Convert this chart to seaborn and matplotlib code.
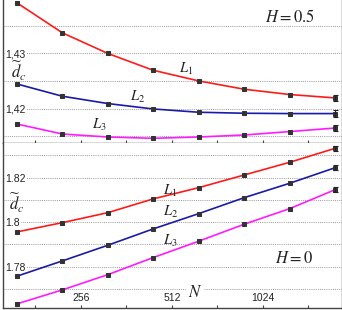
import numpy as np
import pandas as pd
import matplotlib
matplotlib.use('Agg')
import matplotlib.pyplot as plt
from matplotlib.ticker import NullLocator
import seaborn as sns

# ------------------------------------------------------------
# data
# ------------------------------------------------------------
N = [157, 222, 314, 443, 627, 887, 1254, 1774]

# H = 0.5 (upper panel)
h05_L1 = [1.43920, 1.43375, 1.43000, 1.42696, 1.42502, 1.42351, 1.42255, 1.42193]
h05_L2 = [1.42447, 1.42224, 1.42091, 1.41993, 1.41933, 1.41915, 1.41909, 1.41909]
h05_L3 = [1.41720, 1.41538, 1.41484, 1.41460, 1.41484, 1.41520, 1.41582, 1.41647]
h05_err = [0.0006, 0.0006, 0.0006]

# H = 0 (lower panel)
h0_L1 = [1.79560, 1.79978, 1.80427, 1.81043, 1.81551, 1.82121, 1.82692, 1.83321]
h0_L2 = [1.77569, 1.78256, 1.78962, 1.79694, 1.80382, 1.81101, 1.81748, 1.82449]
h0_L3 = [1.76324, 1.76953, 1.77640, 1.78404, 1.79142, 1.79906, 1.80607, 1.81461]
h0_err = [0.0011, 0.0011, 0.0012]

series = ['L1', 'L2', 'L3']
colors = {'L1': '#ff1a1a', 'L2': '#1a1aa8', 'L3': '#ff1aff'}

xticks_major = [256, 512, 1024]
xticks_all = [181, 256, 362, 512, 724, 1024, 1448]

top_yticks = [1.42, 1.43]
top_ylabels = ['1,42', '1,43']
top_grid = [1.415, 1.425, 1.435]
bot_yticks = [1.78, 1.80, 1.82]
bot_ylabels = ['1.78', '1.8', '1.82']
bot_grid = [1.77, 1.79, 1.81, 1.83]

# ------------------------------------------------------------
# setup
# ------------------------------------------------------------
sns.set_theme(style='white')
plt.rcParams['font.family'] = ['Liberation Sans', 'DejaVu Sans']
plt.rcParams['mathtext.fontset'] = 'stix'

fig = plt.figure(figsize=(3.42, 3.10), dpi=100)
W, H = 342, 310
ax_top = fig.add_axes([2.7 / W, 1 - 143 / H, 1 - 2.7 / W, 143 / H])
ax_bot = fig.add_axes([2.7 / W, 2 / H, 1 - 2.7 / W, 165 / H])

def make_df(vals):
    return pd.DataFrame({'N': N * 3,
                         'd': np.concatenate(vals),
                         'L': np.repeat(series, len(N))})

def draw_panel(ax, vals, errs):
    df = make_df(vals)
    sns.lineplot(data=df, x='N', y='d', hue='L', palette=colors, ax=ax,
                 legend=False, linewidth=1.2, marker='s', markersize=2.4,
                 markerfacecolor='#333333', markeredgecolor='#333333',
                 zorder=3)
    for v, e in zip(vals, errs):
        ax.errorbar(N[-1], v[-1], yerr=e, fmt='none', ecolor='#222222',
                    elinewidth=0.8, capsize=1.8, capthick=0.8, zorder=4)
    ax.set_xscale('log', base=2)
    ax.set_xlim(141, 1869)
    ax.xaxis.set_minor_locator(NullLocator())
    ax.set_xticks(xticks_all)
    ax.set_xlabel('')
    ax.set_ylabel('')
    ax.tick_params(axis='x', direction='in', length=2.5, width=0.8,
                   color='#444444', bottom=True)
    ax.tick_params(axis='y', length=0, pad=-2, labelsize=7.5,
                   labelcolor='#222222')
    for s in ['left', 'bottom', 'right']:
        ax.spines[s].set_color('#444444')
        ax.spines[s].set_linewidth(1.0)
    ax.spines['top'].set_visible(False)

# upper panel: H = 0.5
draw_panel(ax_top, [h05_L1, h05_L2, h05_L3], h05_err)
ax_top.set_ylim(1.41375, 1.4397)
ax_top.set_xticklabels([''] * len(xticks_all))
ax_top.set_yticks(top_yticks)
ax_top.set_yticklabels(top_ylabels)
ax_top.set_yticks(top_grid, minor=True)

# lower panel: H = 0
draw_panel(ax_bot, [h0_L1, h0_L2, h0_L3], h0_err)
ax_bot.set_ylim(1.7614, 1.8356)
ax_bot.set_xticklabels([str(t) if t in xticks_major else '' for t in xticks_all])
ax_bot.tick_params(axis='x', pad=-11, labelsize=7.5, labelcolor='#222222')
ax_bot.set_yticks(bot_yticks)
ax_bot.set_yticklabels(bot_ylabels)
ax_bot.set_yticks(bot_grid, minor=True)

for ax in (ax_top, ax_bot):
    ax.grid(axis='y', which='both', linestyle=(0, (1, 1.2)), linewidth=0.7,
            color='#9a9a9a', zorder=0)
    ax.grid(axis='x', visible=False)
    for lbl in ax.get_yticklabels():
        lbl.set_horizontalalignment('left')
        lbl.set_bbox(dict(facecolor='white', edgecolor='none', pad=0.3))

# annotations
tkw = dict(ha='center', va='center', color='#222222', zorder=10)
ax_top.text(0.847, 0.888, r'$H=0.5$', transform=ax_top.transAxes, fontsize=12, **tkw)
ax_top.text(0.540, 0.517, r'$L_1$', transform=ax_top.transAxes, fontsize=10.5, **tkw)
ax_top.text(0.399, 0.322, r'$L_2$', transform=ax_top.transAxes, fontsize=10.5, **tkw)
ax_top.text(0.284, 0.126, r'$L_3$', transform=ax_top.transAxes, fontsize=10.5, **tkw)
ax_top.text(0.048, 0.50, r'$\widetilde{d}_c$', transform=ax_top.transAxes, fontsize=12, **tkw)

ax_bot.text(0.859, 0.303, r'$H=0$', transform=ax_bot.transAxes, fontsize=12, **tkw)
ax_bot.text(0.494, 0.709, r'$L_1$', transform=ax_bot.transAxes, fontsize=10.5, **tkw)
ax_bot.text(0.494, 0.582, r'$L_2$', transform=ax_bot.transAxes, fontsize=10.5, **tkw)
ax_bot.text(0.494, 0.406, r'$L_3$', transform=ax_bot.transAxes, fontsize=10.5, **tkw)
ax_bot.text(0.042, 0.636, r'$\widetilde{d}_c$', transform=ax_bot.transAxes, fontsize=12, **tkw)
ax_bot.text(0.567, 0.095, r'$N$', transform=ax_bot.transAxes, fontsize=12,
            bbox=dict(facecolor='white', edgecolor='none', pad=1.5), **tkw)

fig.savefig('out.png', dpi=100)
plt.close(fig)
